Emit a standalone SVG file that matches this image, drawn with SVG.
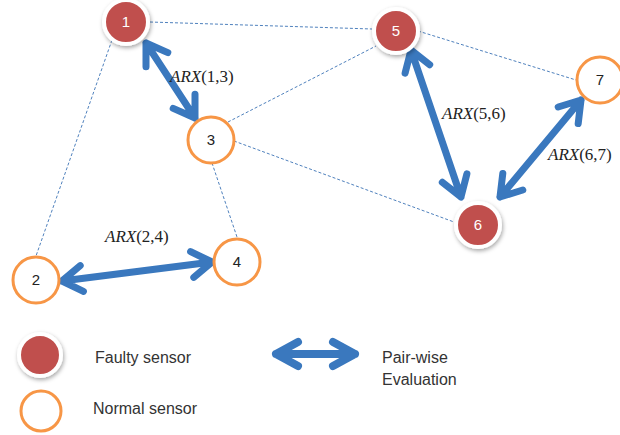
<svg xmlns="http://www.w3.org/2000/svg" width="620" height="435" viewBox="0 0 620 435">
<defs>
<filter id="sh" x="-40%" y="-40%" width="180%" height="180%">
<feDropShadow dx="1" dy="2" stdDeviation="2" flood-color="#000" flood-opacity="0.35"/>
</filter>
<style>
.faulty{fill:#c0504d;stroke:#fff;stroke-width:4;filter:url(#sh)}
.normal{fill:#fff;stroke:#f79646;stroke-width:3}
.dash{stroke:#4f81bd;stroke-width:1;stroke-dasharray:3,2;fill:none}
.arr{stroke:#3a78be;stroke-width:7;fill:none;stroke-linecap:round;stroke-linejoin:round}
.nl{font-family:"Liberation Sans",Arial,sans-serif;font-size:15px;text-anchor:middle}
.wt{fill:#fff}
.bk{fill:#222}
.lab{font-family:"Liberation Serif","Times New Roman",serif;font-size:17px;fill:#222}
.leg{font-family:"Liberation Sans",Arial,sans-serif;font-size:16px;fill:#333}
</style>
</defs>
<rect width="620" height="435" fill="#fff"/>
<g id="connectors">
<line class="dash" x1="150" y1="22" x2="372" y2="29"/>
<line class="dash" x1="112" y1="40" x2="36" y2="256"/>
<line class="dash" x1="228" y1="122" x2="376" y2="46"/>
<line class="dash" x1="234" y1="141" x2="454" y2="222"/>
<line class="dash" x1="212" y1="163" x2="237" y2="237"/>
<line class="dash" x1="418" y1="31" x2="576" y2="80"/>
<path class="arr" d="M146,43 L195,118 M173.2,108.4 L195,118 L195,94.2 M146,66.8 L146,43 L167.8,52.6"/>
<path class="arr" d="M411,50 L461,197 M442.3,182.3 L461,197 L466.9,173.9 M405.1,73.1 L411,50 L429.7,64.7"/>
<path class="arr" d="M500,197 L581,100 M578.2,123.6 L581,100 L558.2,107 M522.8,190 L500,197 L502.8,173.4"/>
<path class="arr" d="M62,281 L212,262 M193.8,277.4 L212,262 L190.6,251.6 M83.4,291.4 L62,281 L80.2,265.6"/>
<text class="lab" x="170" y="82"><tspan font-style="italic">ARX</tspan>(1,3)</text>
<text class="lab" x="442" y="119"><tspan font-style="italic">ARX</tspan>(5,6)</text>
<text class="lab" x="548" y="160"><tspan font-style="italic">ARX</tspan>(6,7)</text>
<text class="lab" x="105" y="242"><tspan font-style="italic">ARX</tspan>(2,4)</text>
</g>
<g id="n1"><circle class="faulty" cx="126" cy="22" r="22"/><text class="nl wt" x="126" y="27">1</text></g>
<g id="n2"><circle class="normal" cx="36" cy="280" r="23"/><text class="nl bk" x="36" y="285">2</text></g>
<g id="n3"><circle class="normal" cx="211" cy="140" r="23"/><text class="nl bk" x="211" y="145">3</text></g>
<g id="n4"><circle class="normal" cx="237" cy="262" r="23"/><text class="nl bk" x="237" y="267">4</text></g>
<g id="n5"><circle class="faulty" cx="396" cy="31" r="22"/><text class="nl wt" x="396" y="36">5</text></g>
<g id="n6"><circle class="faulty" cx="478" cy="225" r="22"/><text class="nl wt" x="478" y="230">6</text></g>
<g id="n7"><circle class="normal" cx="600" cy="80" r="23"/><text class="nl bk" x="600" y="85">7</text></g>
<g id="legend">
<circle class="faulty" cx="40" cy="355" r="21"/>
<text class="leg" x="95" y="363">Faulty sensor</text>
<circle class="normal" cx="41" cy="411" r="20"/>
<text class="leg" x="93" y="414">Normal sensor</text>
<path class="arr" d="M276,354 L355,354 M298,342 L276,354 L298,366 M333,342 L355,354 L333,366" style="stroke-width:8"/>
<text class="leg" x="382" y="363">Pair-wise</text>
<text class="leg" x="382" y="385">Evaluation</text>
</g>
</svg>
